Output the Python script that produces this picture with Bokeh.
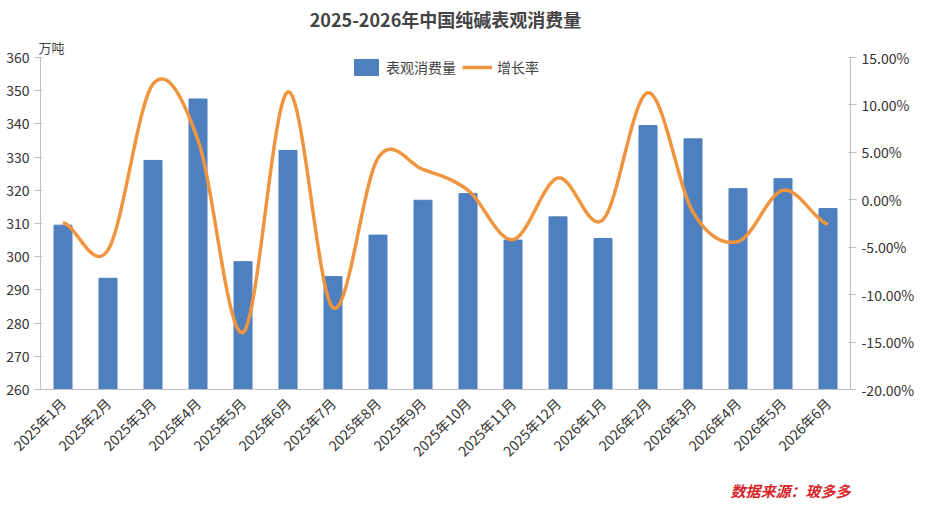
import numpy as np
from bokeh.plotting import figure
from bokeh.models import Range1d, LinearAxis, FixedTicker, Legend, LegendItem, Title
from bokeh.embed import file_html
from bokeh.resources import INLINE

months = ["2025年1月","2025年2月","2025年3月","2025年4月","2025年5月","2025年6月","2025年7月","2025年8月","2025年9月","2025年10月","2025年11月","2025年12月","2026年1月","2026年2月","2026年3月","2026年4月","2026年5月","2026年6月"]
consumption = [309.5,293.5,329,347.5,298.5,332,294,306.5,317,319,305,312,305.5,339.5,335.5,320.5,323.5,314.5]
growth = [-2.4,-5.3,12.2,6.3,-14.0,11.4,-11.4,4.4,3.2,1.0,-4.2,2.3,-2.1,11.3,-1.3,-4.4,1.0,-2.6]

F = "Noto Sans CJK SC"
p = figure(width=917, height=507, output_backend="svg", toolbar_location=None,
           x_range=Range1d(0, len(months)), y_range=Range1d(260, 360),
           min_border_left=40, min_border_right=62, min_border_top=0, min_border_bottom=0)
p.title.text = "2025-2026年中国纯碱表观消费量"
p.title.align = "center"
p.title.text_font = F
p.title.text_font_size = "18px"
p.title.text_font_style = "bold"
p.title.standoff = 6
p.outline_line_color = None
p.grid.visible = False
p.extra_y_ranges = {"g": Range1d(-20, 15)}

unit = Title(text="万吨", align="left", text_font=F, text_font_size="13px",
             text_font_style="normal", offset=-2, standoff=2)
p.add_layout(unit, "above")

xs = np.arange(len(months)) + 0.5
bars = p.vbar(x=xs, top=consumption, bottom=260, width=0.4, color="#4E7FBF")

g = np.array(growth, float)
cx, cy = [], []
for i in range(len(g) - 1):
    p0 = g[max(i-1, 0)]; p1 = g[i]; p2 = g[i+1]; p3 = g[min(i+2, len(g)-1)]
    for t in np.linspace(0, 1, 20, endpoint=False):
        cx.append(xs[i] + t)
        cy.append(0.5*((2*p1) + (-p0+p2)*t + (2*p0-5*p1+4*p2-p3)*t*t + (-p0+3*p1-3*p2+p3)*t**3))
cx.append(xs[-1]); cy.append(g[-1])
line = p.line(cx, cy, y_range_name="g", line_color="#F0953F", line_width=3.5)

p.xaxis.ticker = FixedTicker(ticks=list(xs))
p.xaxis.major_label_overrides = {float(x): m for x, m in zip(xs, months)}
p.xaxis.major_label_orientation = 0.785
p.yaxis.ticker = FixedTicker(ticks=list(range(260, 361, 10)))
ax2 = LinearAxis(y_range_name="g", ticker=FixedTicker(ticks=list(range(-20, 16, 5))))
ax2.major_label_overrides = {v: f"{v:.2f}%" for v in range(-20, 16, 5)}
p.add_layout(ax2, "right")
for ax in [p.xaxis[0], p.yaxis[0], ax2]:
    ax.major_label_text_font = F
    ax.major_label_text_font_size = "14px"
    ax.major_label_text_color = "#333333"
    ax.axis_line_color = "#BFBFBF"
    ax.major_tick_line_color = "#BFBFBF"
    ax.minor_tick_line_color = None
p.xaxis.major_tick_line_color = None

src = Title(text="数据来源：玻多多", align="right", text_font=F, text_font_size="15px",
            text_font_style="bold italic", text_color="#D9262B", offset=0, standoff=14)
p.add_layout(src, "below")

legend = Legend(items=[LegendItem(label="表观消费量", renderers=[bars]), LegendItem(label="增长率", renderers=[line])],
                orientation="horizontal", location="top_center", border_line_color=None,
                background_fill_alpha=0, label_text_font=F, label_text_font_size="14px",
                spacing=6, margin=0, padding=2, glyph_width=30)
p.add_layout(legend, "center")

open("out.html", "w").write(file_html(p, INLINE))
